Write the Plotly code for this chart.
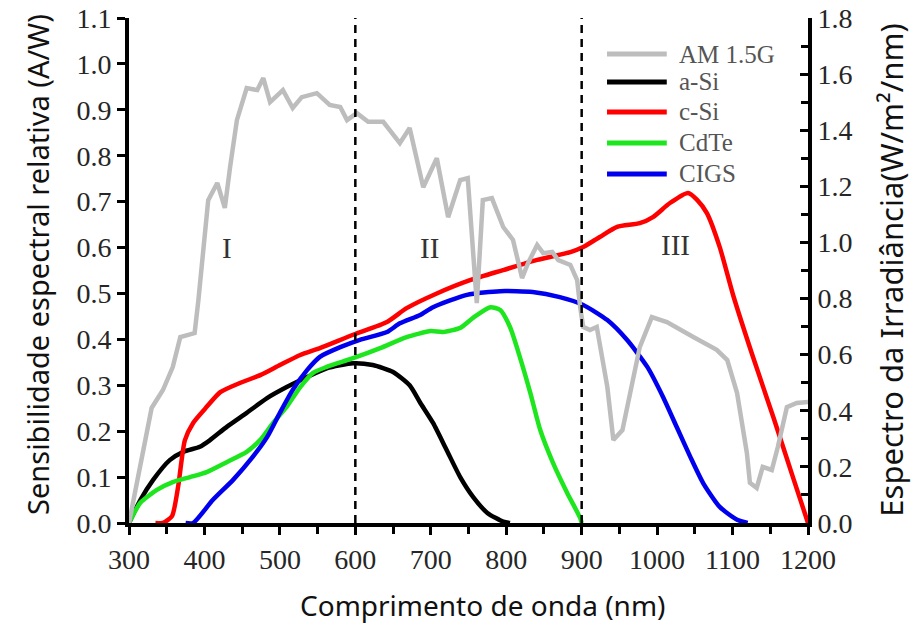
import plotly.graph_objects as go

# ---------------- data ----------------
a_si_x = [300, 315, 332, 354, 372, 394, 407, 430, 456, 483, 509, 536, 562, 597, 623, 650, 672, 686, 703, 721, 739, 756, 775, 796, 805]
a_si_y = [0, 0.05, 0.094, 0.137, 0.155, 0.166, 0.18, 0.21, 0.24, 0.272, 0.296, 0.318, 0.337, 0.348, 0.344, 0.329, 0.30, 0.262, 0.218, 0.159, 0.10, 0.057, 0.022, 0.003, 0]

c_si_x = [335, 345, 357, 365, 374, 385, 403, 421, 447, 474, 500, 527, 553, 597, 642, 668, 708, 752, 796, 841, 885, 902, 924, 947, 977, 995, 1017, 1041, 1053, 1066, 1083, 1101, 1127, 1154, 1180, 1200]
c_si_y = [0, 0, 0.015, 0.078, 0.18, 0.218, 0.253, 0.285, 0.305, 0.322, 0.344, 0.366, 0.381, 0.41, 0.438, 0.468, 0.50, 0.529, 0.551, 0.573, 0.59, 0.601, 0.623, 0.645, 0.653, 0.667, 0.697, 0.719, 0.704, 0.675, 0.601, 0.495, 0.362, 0.231, 0.10, 0]

cdte_x = [300, 315, 337, 358, 381, 403, 430, 456, 474, 491, 509, 527, 544, 562, 597, 633, 668, 700, 716, 739, 756, 779, 792, 805, 818, 832, 845, 862, 881, 898, 900]
cdte_y = [0, 0.044, 0.072, 0.089, 0.10, 0.111, 0.133, 0.155, 0.181, 0.218, 0.253, 0.296, 0.327, 0.34, 0.359, 0.381, 0.405, 0.418, 0.416, 0.425, 0.447, 0.47, 0.464, 0.427, 0.362, 0.283, 0.203, 0.131, 0.065, 0.011, 0]

cigs_x = [375, 385, 411, 438, 464, 483, 500, 517, 536, 553, 580, 606, 642, 659, 686, 703, 748, 792, 835, 871, 902, 934, 960, 987, 1008, 1026, 1044, 1061, 1083, 1106, 1120]
cigs_y = [0, 0, 0.05, 0.094, 0.144, 0.187, 0.24, 0.29, 0.333, 0.362, 0.383, 0.399, 0.416, 0.435, 0.453, 0.47, 0.497, 0.505, 0.503, 0.492, 0.475, 0.442, 0.399, 0.34, 0.274, 0.209, 0.144, 0.087, 0.035, 0.007, 0]

am15g_x = [300, 312, 324, 330, 345, 354, 358, 368, 387, 392, 397, 405, 417, 427, 434, 443, 456, 470, 478, 487, 504, 517, 529, 549, 566, 580, 589, 602, 617, 637, 659, 672, 690, 708, 723, 739, 749, 761, 769, 781, 796, 809, 821, 829, 841, 849, 861, 869, 885, 894, 898, 902, 911, 920, 934, 942, 954, 964, 977, 993, 1013, 1048, 1079, 1093, 1106, 1119, 1123, 1132, 1140, 1152, 1160, 1172, 1185, 1200]
am15g_y = [0, 0.164, 0.32, 0.41, 0.474, 0.535, 0.556, 0.663, 0.677, 0.795, 0.937, 1.151, 1.212, 1.123, 1.269, 1.436, 1.55, 1.543, 1.586, 1.50, 1.543, 1.479, 1.518, 1.532, 1.49, 1.483, 1.436, 1.461, 1.43, 1.43, 1.354, 1.408, 1.197, 1.30, 1.09, 1.222, 1.229, 0.784, 1.151, 1.158, 1.055, 1.009, 0.873, 0.927, 0.991, 0.962, 0.966, 0.937, 0.92, 0.866, 0.77, 0.699, 0.688, 0.699, 0.485, 0.296, 0.331, 0.463, 0.627, 0.734, 0.716, 0.663, 0.617, 0.581, 0.463, 0.249, 0.143, 0.125, 0.20, 0.189, 0.271, 0.413, 0.428, 0.431]

series_names = ["AM 1.5G", "a-Si", "c-Si", "CdTe", "CIGS"]
series_colors = ["#bdbdbd", "#000000", "#ff0000", "#1ee61e", "#0000ee"]

# tick values / labels
x_ticks = [300, 400, 500, 600, 700, 800, 900, 1000, 1100, 1200]
y_ticks = [0.0, 0.1, 0.2, 0.3, 0.4, 0.5, 0.6, 0.7, 0.8, 0.9, 1.0, 1.1]
y_tick_labels = ["0.0", "0.1", "0.2", "0.3", "0.4", "0.5", "0.6", "0.7", "0.8", "0.9", "1.0", "1.1"]
y2_ticks = [0.0, 0.2, 0.4, 0.6, 0.8, 1.0, 1.2, 1.4, 1.6, 1.8]
y2_tick_labels = ["0.0", "0.2", "0.4", "0.6", "0.8", "1.0", "1.2", "1.4", "1.6", "1.8"]

region_bounds = [600, 900]
region_labels = ["I", "II", "III"]
region_label_x = [430, 698, 1024]
region_label_y = [0.60, 0.60, 0.605]

x_title = "Comprimento de onda (nm)"
y_title = "Sensibilidade espectral relativa (A/W)"
y2_title = "Espectro da Irradiância(W/m²/nm)"

# ---------------- figure ----------------
SERIF = "Liberation Serif, Times New Roman, serif"
SANS = "Noto Sans, Open Sans, sans-serif"
LW = 4.5

fig = go.Figure()
fig.add_trace(go.Scatter(x=am15g_x, y=am15g_y, mode="lines", name=series_names[0],
                         line=dict(color=series_colors[0], width=LW), yaxis="y2", showlegend=False))
cells = [(a_si_x, a_si_y), (c_si_x, c_si_y), (cdte_x, cdte_y), (cigs_x, cigs_y)]
for (xs, ys), nm, col in zip(cells, series_names[1:], series_colors[1:]):
    fig.add_trace(go.Scatter(x=xs, y=ys, mode="lines", name=nm, showlegend=False,
                             line=dict(color=col, width=LW, shape="spline", smoothing=0.6)))

tickfont = dict(family=SERIF, size=28, color="#262626")
AXW = 4

fig.update_layout(
    width=917, height=625,
    margin=dict(l=129, r=109, t=18, b=102, autoexpand=False),
    paper_bgcolor="white", plot_bgcolor="white",
    showlegend=False,
    xaxis=dict(range=[300, 1200], tickmode="array", tickvals=x_ticks,
               showgrid=False, zeroline=False, automargin=False, ticklabeloverflow="allow",
               showline=True, linecolor="black", linewidth=AXW,
               ticks="outside", ticklen=8, tickwidth=3, tickcolor="black",
               minor=dict(dtick=50, tick0=300, ticks="outside", ticklen=7, tickwidth=3, tickcolor="black"),
               tickfont=tickfont),
    xaxis2=dict(range=[300, 1200], overlaying="x", side="top", anchor="y", dtick=50, tick0=300,
                automargin=False,
                showgrid=False, zeroline=False, showticklabels=False,
                showline=True, linecolor="black", linewidth=AXW,
                ticks="inside", ticklen=7, tickwidth=3, tickcolor="black"),
    yaxis=dict(range=[0, 1.1], tickmode="array", tickvals=y_ticks, ticktext=y_tick_labels,
               showgrid=False, zeroline=False, automargin=False, ticklabeloverflow="allow",
               showline=True, linecolor="black", linewidth=AXW,
               ticks="outside", ticklen=8, tickwidth=3, tickcolor="black",
               tickfont=tickfont),
    yaxis2=dict(range=[0, 1.8], tickmode="array", tickvals=y2_ticks, ticktext=y2_tick_labels,
                overlaying="y", side="right",
                automargin=False, ticklabeloverflow="allow",
                showgrid=False, zeroline=False,
                showline=True, linecolor="black", linewidth=AXW,
                ticks="inside", ticklen=8, tickwidth=3, tickcolor="black",
                minor=dict(dtick=0.1, tick0=0, ticks="inside", ticklen=7, tickwidth=3, tickcolor="black"),
                tickfont=tickfont),
)

# region boundary dashed lines
for xb in region_bounds:
    fig.add_shape(type="line", xref="x", yref="paper", x0=xb, x1=xb, y0=0, y1=1,
                  line=dict(color="black", width=2.5, dash="8px,6px"))

# region labels
for lab, lx, ly in zip(region_labels, region_label_x, region_label_y):
    fig.add_annotation(x=lx, y=ly, xref="x", yref="y", text=lab, showarrow=False,
                       font=dict(family=SERIF, size=29, color="#333333"))

# manual legend (long line samples as in the reference)
leg_y = [0.9287, 0.8733, 0.8139, 0.7525, 0.6911]
for nm, col, ly in zip(series_names, series_colors, leg_y):
    fig.add_shape(type="line", xref="paper", yref="paper", x0=0.704, x1=0.792, y0=ly, y1=ly,
                  line=dict(color=col, width=LW + 0.5))
    fig.add_annotation(x=0.807, y=ly, xref="paper", yref="paper", text=nm, showarrow=False,
                       xanchor="left", yanchor="middle",
                       font=dict(family=SERIF, size=25, color="#555555"))

# axis titles
fig.add_annotation(x=0.52, y=-0.162, xref="paper", yref="paper", text=x_title, showarrow=False,
                   xanchor="center", yanchor="middle", font=dict(family=SANS, size=28, color="#111111"))
fig.add_annotation(x=-0.134, y=0.511, xref="paper", yref="paper", text=y_title, showarrow=False,
                   textangle=-90, xanchor="center", yanchor="middle",
                   font=dict(family=SANS, size=29, color="#111111"))
fig.add_annotation(x=1.121, y=0.50, xref="paper", yref="paper", text=y2_title, showarrow=False,
                   textangle=-90, xanchor="center", yanchor="middle",
                   font=dict(family=SANS, size=31, color="#111111"))

# remove the browser's default 8px body margin so the figure fills the window exactly
fig.write_html("out.html", config={"displayModeBar": False},
               post_script="document.body.style.margin='0';document.body.style.overflow='hidden';")
